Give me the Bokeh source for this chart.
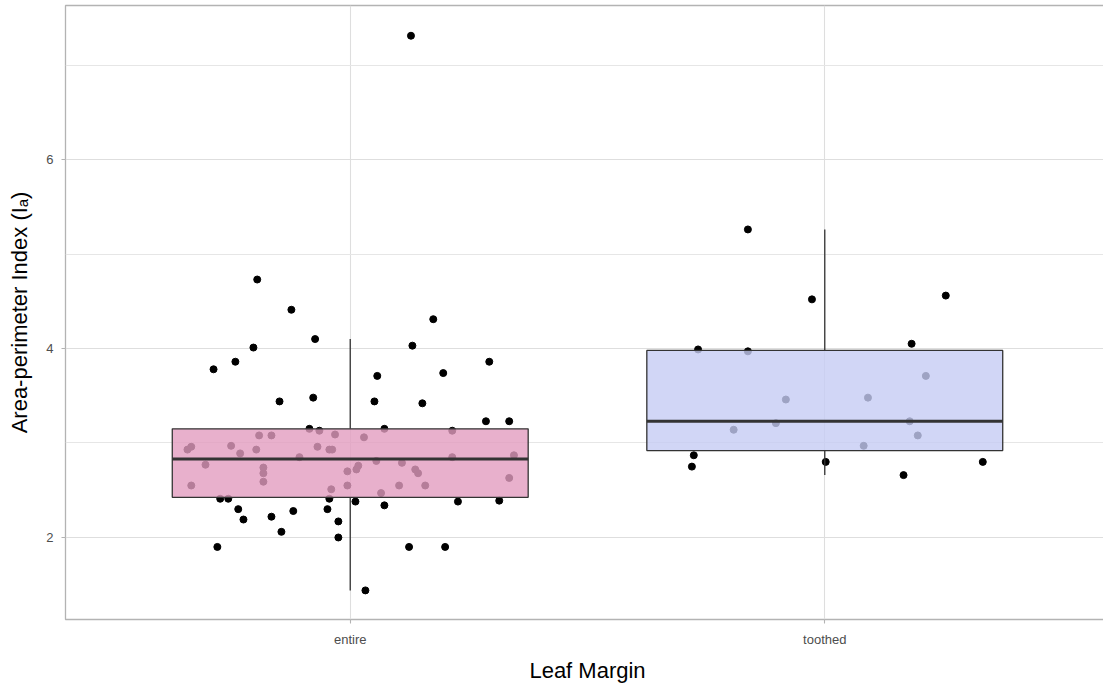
import numpy as np
from bokeh.plotting import figure
from bokeh.models import FixedTicker, Range1d
from bokeh.embed import file_html
from bokeh.resources import INLINE

categories = ["entire", "toothed"]

# entire-margin leaves: jitter offset (category units) and area-perimeter index
entire_jitter = [0.128, -0.196, -0.124, -0.074, -0.204, -0.242, -0.288, -0.149, -0.078, -0.086,
                 -0.065, 0.175, 0.131, 0.293, 0.057, 0.196, 0.051, 0.152, 0.286, 0.335,
                 0.072, 0.215, -0.274, -0.257, -0.236, -0.225, -0.280, -0.166, -0.145, -0.120,
                 -0.044, -0.048, -0.025, -0.025, 0.011, 0.072, 0.227, 0.314, 0.124, 0.200,
                 0.032, -0.343, -0.335, -0.305, -0.335, -0.251, -0.232, -0.192, -0.166, -0.198,
                 -0.183, -0.183, -0.183, -0.107, -0.069, -0.044, -0.038, -0.032, -0.040, -0.006,
                 -0.006, 0.029, 0.013, 0.017, 0.055, 0.109, 0.137, 0.143, 0.103, 0.158,
                 0.065, 0.215, 0.345, 0.335]
entire_values = [7.31, 4.73, 4.41, 4.10, 4.01, 3.86, 3.78, 3.44, 3.48, 3.15,
                 3.13, 4.31, 4.03, 3.86, 3.71, 3.74, 3.44, 3.42, 3.23, 3.23,
                 3.15, 3.13, 2.41, 2.41, 2.30, 2.19, 1.90, 2.22, 2.06, 2.28,
                 2.41, 2.30, 2.17, 2.00, 2.38, 2.34, 2.38, 2.39, 1.90, 1.90,
                 1.44, 2.93, 2.96, 2.77, 2.55, 2.97, 2.89, 3.08, 3.08, 2.93,
                 2.74, 2.68, 2.59, 2.85, 2.96, 2.93, 2.93, 3.09, 2.51, 2.70,
                 2.55, 3.06, 2.72, 2.76, 2.81, 2.79, 2.72, 2.68, 2.55, 2.55,
                 2.47, 2.85, 2.87, 2.63]

# toothed-margin leaves
toothed_jitter = [-0.162, -0.027, -0.267, -0.162, -0.082, -0.192, -0.103, -0.276, -0.280, 0.002,
                  0.255, 0.183, 0.213, 0.091, 0.179, 0.196, 0.082, 0.333, 0.166]
toothed_values = [5.26, 4.52, 3.99, 3.97, 3.46, 3.14, 3.21, 2.87, 2.75, 2.80,
                  4.56, 4.05, 3.71, 3.48, 3.23, 3.08, 2.97, 2.80, 2.66]

box_colors = ["#E29CBF", "#C5CCF4"]

groups = [(entire_jitter, entire_values), (toothed_jitter, toothed_values)]

p = figure(frame_width=1044, frame_height=614, output_backend="svg", toolbar_location=None,
           x_range=Range1d(0.4, 2.6), y_range=Range1d(1.132, 7.63),
           min_border_left=65, min_border_right=0, min_border_top=5, min_border_bottom=64,
           background_fill_color="white", border_fill_color="white")

p.outline_line_color = "#B3B3B3"
p.outline_line_width = 1.3

# grids
p.xgrid.ticker = FixedTicker(ticks=[1, 2])
p.ygrid.ticker = FixedTicker(ticks=[2, 4, 6], minor_ticks=[3, 5, 7])
p.xgrid.grid_line_color = "#DEDEDE"
p.ygrid.grid_line_color = "#DEDEDE"
p.xgrid.grid_line_width = 1.1
p.ygrid.grid_line_width = 1.1
p.ygrid.minor_grid_line_color = "#E6E6E6"
p.ygrid.minor_grid_line_width = 1

# axes
p.xaxis.ticker = FixedTicker(ticks=[1, 2])
p.xaxis.major_label_overrides = {i + 1: c for i, c in enumerate(categories)}
p.yaxis.ticker = FixedTicker(ticks=[2, 4, 6])
for ax in (p.xaxis, p.yaxis):
    ax.axis_line_color = None
    ax.major_tick_line_color = "#B3B3B3"
    ax.major_tick_line_width = 1.1
    ax.major_tick_out = 4
    ax.major_tick_in = 0
    ax.minor_tick_line_color = None
    ax.major_label_text_font = "Liberation Sans"
    ax.major_label_text_font_size = "13px"
    ax.major_label_text_color = "#4D4D4D"
    ax.axis_label_text_font = "Liberation Sans"
    ax.axis_label_text_font_size = "22px"
    ax.axis_label_text_font_style = "normal"
    ax.axis_label_text_color = "#000000"

p.xaxis.axis_label = "Leaf Margin"
p.yaxis.axis_label = "Area-perimeter Index (I\u2090)"
p.xaxis.major_label_standoff = 8
p.xaxis.axis_label_standoff = 8
p.yaxis.major_label_standoff = 8
p.yaxis.axis_label_standoff = 11

# jittered points (drawn beneath the boxes)
for i, (jit, vals) in enumerate(groups):
    xs = [i + 1 + j for j in jit]
    p.scatter(x=xs, y=vals, size=7, color="black", line_color="black")

# boxplots computed from the data
for i, (jit, vals) in enumerate(groups):
    v = np.array(vals)
    q1, med, q3 = np.percentile(v, [25, 50, 75])
    iqr = q3 - q1
    lo = v[v >= q1 - 1.5 * iqr].min()
    hi = v[v <= q3 + 1.5 * iqr].max()
    c = i + 1
    p.segment(x0=[c, c], y0=[q3, q1], x1=[c, c], y1=[hi, lo], line_color="#333333", line_width=1.3)
    p.quad(left=[c - 0.375], right=[c + 0.375], bottom=[q1], top=[q3],
           fill_color=box_colors[i], fill_alpha=0.8, line_color="#333333", line_width=1.3)
    p.segment(x0=[c - 0.375], y0=[med], x1=[c + 0.375], y1=[med], line_color="#333333", line_width=3)

html = file_html(p, INLINE)
html = html.replace("<head>", "<head><style>html, body { margin: 0; padding: 0; overflow: hidden; }</style>", 1)
open("out.html", "w").write(html)
